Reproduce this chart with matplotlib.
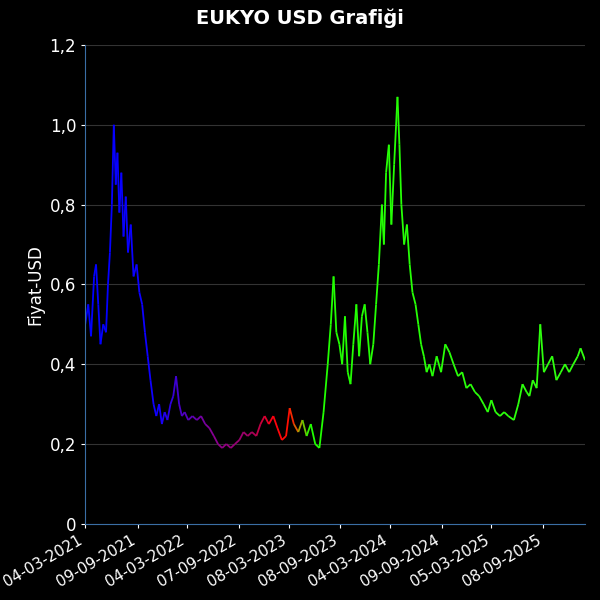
import matplotlib
matplotlib.use("Agg")
import matplotlib.pyplot as plt
import matplotlib.dates as mdates
from matplotlib.collections import LineCollection
from matplotlib.colors import LinearSegmentedColormap
import numpy as np
import pandas as pd

dates = ["2021-03-04","2021-03-15","2021-03-25","2021-04-05","2021-04-12","2021-04-20","2021-04-28","2021-05-08",
 "2021-05-18","2021-05-25","2021-06-01","2021-06-08","2021-06-15","2021-06-22","2021-06-28","2021-07-05",
 "2021-07-12","2021-07-20","2021-07-28","2021-08-05","2021-08-15","2021-08-25","2021-09-05","2021-09-15",
 "2021-09-25","2021-10-05","2021-10-15","2021-10-25","2021-11-05","2021-11-15","2021-11-25","2021-12-05",
 "2021-12-15","2021-12-25","2022-01-05","2022-01-15","2022-01-25","2022-02-05","2022-02-15","2022-02-25",
 "2022-03-10","2022-03-25","2022-04-10","2022-04-25","2022-05-10","2022-05-25","2022-06-10","2022-06-25",
 "2022-07-10","2022-07-25","2022-08-10","2022-08-25","2022-09-10","2022-09-25","2022-10-10","2022-10-25",
 "2022-11-10","2022-11-25","2022-12-10","2022-12-25","2023-01-10","2023-01-25","2023-02-10","2023-02-25",
 "2023-03-10","2023-03-25","2023-04-10","2023-04-25","2023-05-10","2023-05-25","2023-06-10","2023-06-25",
 "2023-07-10","2023-07-25","2023-08-05","2023-08-15","2023-08-25","2023-09-05","2023-09-15","2023-09-25",
 "2023-10-05","2023-10-15","2023-10-25","2023-11-05","2023-11-15","2023-11-25","2023-12-05","2023-12-15",
 "2023-12-25","2024-01-05","2024-01-15","2024-01-25","2024-02-05","2024-02-12","2024-02-20","2024-03-01",
 "2024-03-10","2024-03-20","2024-04-01","2024-04-08","2024-04-15","2024-04-25","2024-05-05","2024-05-15",
 "2024-05-25","2024-06-05","2024-06-15","2024-06-25","2024-07-05","2024-07-15","2024-07-25","2024-08-05",
 "2024-08-20","2024-09-05","2024-09-20","2024-10-05","2024-10-20","2024-11-05","2024-11-20","2024-12-05",
 "2024-12-20","2025-01-05","2025-01-20","2025-02-05","2025-02-20","2025-03-05","2025-03-20","2025-04-05",
 "2025-04-20","2025-05-05","2025-05-25","2025-06-10","2025-06-25","2025-07-10","2025-07-20","2025-08-01",
 "2025-08-15","2025-08-28","2025-09-10","2025-09-25","2025-10-10","2025-10-25","2025-11-10","2025-11-25",
 "2025-12-10","2025-12-25","2026-01-10","2026-01-20","2026-02-05"]
values = [0.50,0.55,0.47,0.62,0.65,0.55,0.45,0.50,
 0.48,0.60,0.68,0.80,1.00,0.85,0.93,0.78,
 0.88,0.72,0.82,0.68,0.75,0.62,0.65,0.58,
 0.55,0.48,0.42,0.36,0.30,0.27,0.30,0.25,
 0.28,0.26,0.30,0.32,0.37,0.30,0.27,0.28,
 0.26,0.27,0.26,0.27,0.25,0.24,0.22,0.20,
 0.19,0.20,0.19,0.20,0.21,0.23,0.22,0.23,
 0.22,0.25,0.27,0.25,0.27,0.24,0.21,0.22,
 0.29,0.25,0.23,0.26,0.22,0.25,0.20,0.19,
 0.28,0.40,0.50,0.62,0.48,0.45,0.40,0.52,
 0.38,0.35,0.45,0.55,0.42,0.52,0.55,0.48,
 0.40,0.45,0.55,0.65,0.80,0.70,0.88,0.95,
 0.75,0.90,1.07,0.95,0.80,0.70,0.75,0.65,
 0.58,0.55,0.50,0.45,0.42,0.38,0.40,0.37,
 0.42,0.38,0.45,0.43,0.40,0.37,0.38,0.34,
 0.35,0.33,0.32,0.30,0.28,0.31,0.28,0.27,
 0.28,0.27,0.26,0.30,0.35,0.33,0.32,0.36,
 0.34,0.50,0.38,0.40,0.42,0.36,0.38,0.40,
 0.38,0.40,0.42,0.44,0.41]

x = mdates.date2num(pd.to_datetime(dates))
vals = np.array(values)
pts = np.column_stack([x, vals])
segs = np.stack([pts[:-1], pts[1:]], axis=1)

def frac(d):
    return (mdates.date2num(pd.Timestamp(d)) - x[0]) / (x[-1] - x[0])

cmap = LinearSegmentedColormap.from_list("c", [
    (0, "#0000ff"), (frac("2021-11-15"), "#1000ff"), (frac("2022-02-15"), "#5000c0"),
    (frac("2022-06-01"), "#8a0090"), (frac("2022-10-15"), "#a00060"), (frac("2023-01-01"), "#ff0010"),
    (frac("2023-03-01"), "#ff1000"), (frac("2023-04-01"), "#d08000"), (frac("2023-05-15"), "#20ff00"),
    (1, "#30ff10")])
t = (x[:-1] - x[0]) / (x[-1] - x[0])

fig = plt.figure(figsize=(6, 6), dpi=100, facecolor="black")
ax = fig.add_axes([0.142, 0.127, 0.833, 0.798], facecolor="black")
ax.add_collection(LineCollection(segs, colors=cmap(t), linewidth=1.3))
ax.set_xlim(x[0], x[-1])
ax.set_ylim(0, 1.2)
ax.set_yticks(np.arange(0, 1.21, 0.2))
ax.set_yticklabels(["0", "0,2", "0,4", "0,6", "0,8", "1,0", "1,2"], color="white", fontsize=12)
ticks = ["04-03-2021","09-09-2021","04-03-2022","07-09-2022","08-03-2023","08-09-2023",
         "04-03-2024","09-09-2024","05-03-2025","08-09-2025"]
ax.set_xticks([mdates.date2num(pd.to_datetime(s, format="%d-%m-%Y")) for s in ticks])
ax.set_xticklabels(ticks, rotation=30, ha="right", color="white", fontsize=11)
ax.grid(axis="y", color="#333333", linewidth=0.8)
for s in ["top", "right"]:
    ax.spines[s].set_visible(False)
ax.spines["left"].set_color("#3a6ea5")
ax.spines["bottom"].set_color("#3a6ea5")
ax.tick_params(colors="white", length=3)
ax.set_ylabel("Fiyat-USD", color="white", fontsize=12)
fig.suptitle("EUKYO USD Grafiği", color="white", fontsize=14, fontweight="bold", y=0.985)
fig.savefig("out.png", facecolor="black")
